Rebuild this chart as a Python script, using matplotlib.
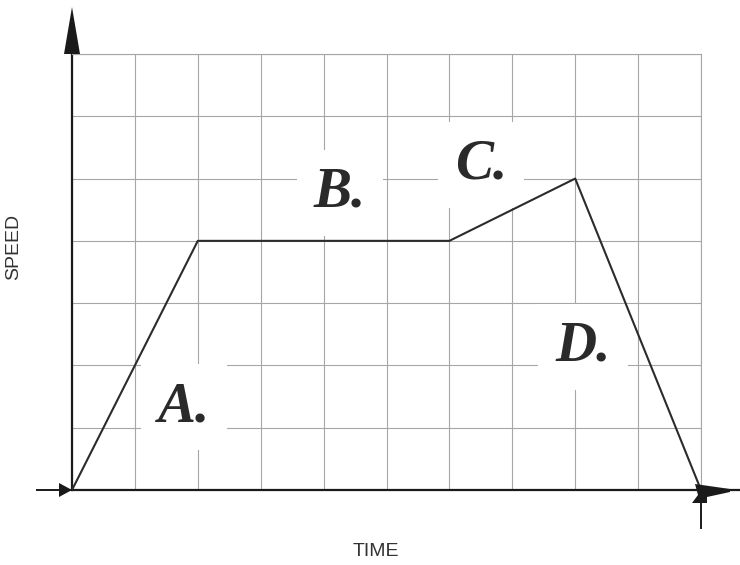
import matplotlib
matplotlib.use("Agg")
import matplotlib.pyplot as plt
from matplotlib.patches import Polygon

# speed-time graph (grid units)
time = [0, 2, 6, 8, 10]
speed = [0, 4, 4, 5, 0]

labels = ["A.", "B.", "C.", "D."]
label_x = [1.78, 4.26, 6.5, 8.12]
label_y = [1.33, 4.77, 5.22, 2.3]

x_ticks = list(range(0, 11))
y_ticks = list(range(0, 8))

fig = plt.figure(figsize=(7.4, 5.65), dpi=100)
ax = fig.add_axes([72 / 740, 75 / 565, 629 / 740, 436 / 565])
ax.set_xlim(x_ticks[0], x_ticks[-1])
ax.set_ylim(y_ticks[0], y_ticks[-1])
ax.set_xticks(x_ticks)
ax.set_yticks(y_ticks)
ax.tick_params(length=0, labelbottom=False, labelleft=False)
ax.grid(color="#a6a6a6", lw=0.8)
ax.set_axisbelow(True)

for side in ["top", "right"]:
    ax.spines[side].set_color("#a6a6a6")
    ax.spines[side].set_linewidth(0.8)
for side in ["left", "bottom"]:
    ax.spines[side].set_color("#1a1a1a")
    ax.spines[side].set_linewidth(1.6)

ax.plot(time, speed, color="#2b2b2b", lw=1.5, zorder=5)

for lab, lx, ly in zip(labels, label_x, label_y):
    ax.text(lx, ly, lab, family="Liberation Serif", fontsize=41,
            fontweight="bold", fontstyle="italic", color="#2a2a2a",
            ha="center", va="center", zorder=4,
            bbox=dict(boxstyle="square,pad=0.3", fc="white", ec="none"))

# ---------------- ARROWS ----------------
ux = 1 / 62.9   # data units per pixel
uy = 1 / 62.3
x0, x1 = ax.get_xlim()
y0, y1 = ax.get_ylim()

top = Polygon([(x0 - 8 * ux, y1), (x0 + 8 * ux, y1), (x0, y1 + 47 * uy)],
              closed=True, fc="#1a1a1a", ec="none", clip_on=False, zorder=6)
ax.add_patch(top)

ax.plot([x0 - 35 * ux, x0], [y0, y0], color="#1a1a1a", lw=1.4, clip_on=False)
left = Polygon([(x0 - 13 * ux, y0 + 7 * uy), (x0 - 13 * ux, y0 - 7 * uy), (x0, y0)],
               closed=True, fc="#1a1a1a", ec="none", clip_on=False, zorder=6)
ax.add_patch(left)

ax.plot([x1, x1 + 39 * ux], [y0, y0], color="#1a1a1a", lw=1.6, clip_on=False)
ax.plot([x1, x1], [y0, y0 - 38 * uy], color="#1a1a1a", lw=1.4, clip_on=False)
right = Polygon([(x1 - 6 * ux, y0 + 6 * uy), (x1 + 29 * ux, y0 + 1 * uy),
                 (x1 + 29 * ux, y0 - 2 * uy), (x1 + 6 * ux, y0 - 7 * uy),
                 (x1 + 6 * ux, y0 - 13 * uy), (x1 - 9 * ux, y0 - 13 * uy),
                 (x1 - 3 * ux, y0 - 5 * uy)],
                closed=True, fc="#1a1a1a", ec="none", clip_on=False, zorder=6)
ax.add_patch(right)

fig.text(14 / 740, 1 - 247 / 565, "SPEED", family="Liberation Sans", fontsize=14,
         rotation=90, ha="center", va="center", color="#333333")
fig.text(376 / 740, 1 - 552 / 565, "TIME", family="Liberation Sans", fontsize=14,
         ha="center", va="center", color="#333333")

fig.savefig("out.png", dpi=100, facecolor="white")
